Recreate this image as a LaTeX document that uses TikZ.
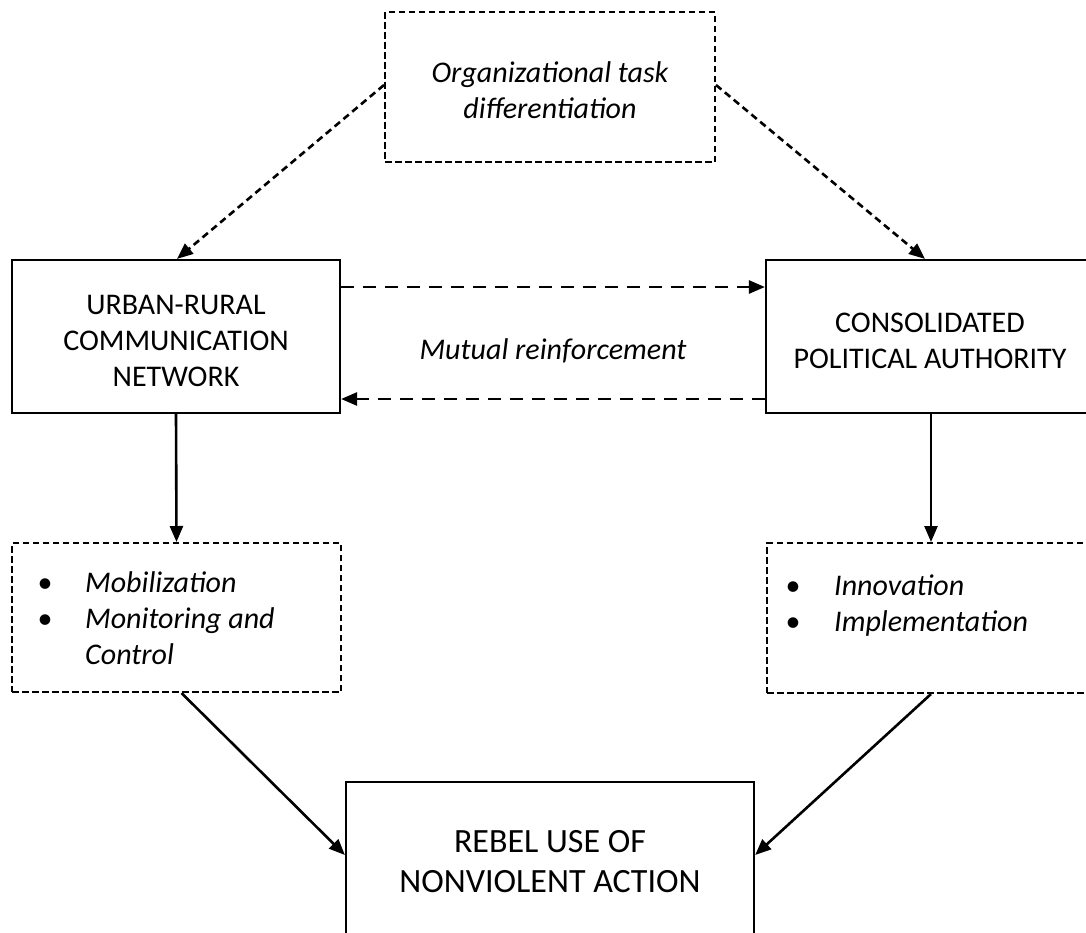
\documentclass[tikz,border=0pt]{standalone}
\usepackage{fontspec}
\setmainfont{Carlito}
\usetikzlibrary{arrows.meta}
\begin{document}
\begin{tikzpicture}[x=1pt,y=-1pt,
  every node/.style={font=\fontsize{30}{36}\selectfont, align=center, inner sep=0pt},
  bigtext/.style={font=\fontsize{34}{40}\selectfont},
  solidbox/.style={draw, line width=2.2pt},
  dashbox/.style={draw, line width=2pt, dash pattern=on 6.5pt off 3.5pt},
  tip/.style={-{Triangle[length=16pt,width=13pt]}},
  solidarrow/.style={tip, line width=2.6pt},
  dasharrow/.style={tip, line width=2.6pt, dash pattern=on 7pt off 4.5pt},
  longdash/.style={tip, line width=2.6pt, dash pattern=on 13pt off 9pt},
  listtext/.style={anchor=base west, align=left}
]
\useasboundingbox (0,0) rectangle (1086,932);
\clip (0,0) rectangle (1086,932);

% boxes
\node[dashbox, minimum width=330pt, minimum height=150pt] (task) at (550,87) {};
\node (tasktext) at (550,90) {\itshape Organizational task\\ \itshape differentiation};
\node[solidbox, minimum width=328pt, minimum height=153pt] (urban) at (176,336.5) {};
\node (urbantext) at (176,341) {URBAN-RURAL\\ COMMUNICATION\\ NETWORK};
\node[solidbox, minimum width=328pt, minimum height=153pt] (auth) at (930,336.5) {};
\node (authtext) at (930,341) {CONSOLIDATED\\ POLITICAL AUTHORITY};
\node[dashbox, minimum width=329pt, minimum height=149pt] (mob) at (176.5,617.5) {};
\node[dashbox, minimum width=328pt, minimum height=150pt] (inno) at (931,618) {};
\node[solidbox, bigtext, minimum width=408pt, minimum height=160pt] (rebel) at (550,862)
  {REBEL USE OF\\ NONVIOLENT ACTION};

% bullet lists
\node[listtext] (mobtext) at (37.5,592) {%
  \begin{tabular}[t]{@{}p{47.5pt}@{}l@{}}
  \textbullet & \itshape Mobilization\\
  \textbullet & \itshape Monitoring and\\
              & \itshape Control
  \end{tabular}};
\node[listtext] (innotext) at (785.5,595) {%
  \begin{tabular}[t]{@{}p{48.5pt}@{}l@{}}
  \textbullet & \itshape Innovation\\
  \textbullet & \itshape Implementation
  \end{tabular}};

% label between the two mechanisms
\node (mutual) at (553,351) {\itshape Mutual reinforcement};

% connectors
\draw[dasharrow] ([yshift=2pt]task.west) -- ([xshift=1pt]urban.north);
\draw[dasharrow] ([yshift=2pt]task.east) -- ([xshift=-5pt]auth.north);
\draw[longdash] ([yshift=49.5pt]urban.east) -- ([yshift=49.5pt]auth.west);
\draw[longdash] ([yshift=-62.5pt]auth.west) -- ([yshift=-62.5pt]urban.east);
\draw[solidarrow] (urban.south) -- (mob.north);
\draw[solidarrow] (auth.south -| inno.north) -- (inno.north);
\draw[solidarrow] ([xshift=5pt]mob.south) -- ([yshift=7pt]rebel.west);
\draw[solidarrow] (inno.south) -- ([yshift=7pt]rebel.east);
\end{tikzpicture}
\end{document}
